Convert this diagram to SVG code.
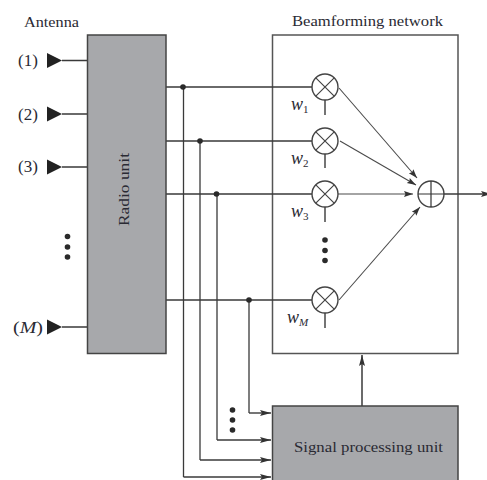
<svg xmlns="http://www.w3.org/2000/svg" width="487" height="480" viewBox="0 0 487 480">
<defs>
<marker id="a" markerUnits="userSpaceOnUse" markerWidth="12" markerHeight="8" refX="11" refY="4" orient="auto"><path d="M0 1L11 4L0 7L2 4Z" fill="#333"/></marker>
<marker id="t" markerUnits="userSpaceOnUse" markerWidth="10" markerHeight="8" refX="9" refY="4" orient="auto"><path d="M0 1L9 4L0 7L1.500 4Z" fill="#333"/></marker>
<g id="mul"><circle r="13" fill="#fff" stroke="#444" stroke-width="1.400"/><path d="M-9.200-9.200L9.200 9.200M-9.200 9.200L9.200-9.200" stroke="#444" stroke-width="1.200"/></g>
<path id="ant" d="M47 0V-7.500L62 0L47 7.500Z" fill="#222"/>
</defs>
<style>
text{font-family:"Liberation Serif","Times New Roman",serif;fill:#2a2a33;font-size:15px}
.l{fill:none;stroke:#3a3a3a;stroke-width:1.400}
.n{fill:none;stroke:#4a4a4a;stroke-width:1.100}
.b{fill:#a7a8ab;stroke:#444;stroke-width:1.500}
.w{fill:#fff;stroke:#555;stroke-width:1.500}
.d{fill:#2a2a2a}
.p{font-size:17px}
.o{font-size:18px;font-style:italic}
.s{font-size:11px}
</style>
<rect width="487" height="480" fill="#fff"/>
<g id="beamforming-network"><rect class="w" x="272.500" y="35" width="185.500" height="318.500"/><text x="292" y="26" textLength="151" lengthAdjust="spacingAndGlyphs">Beamforming network</text></g>
<g id="connectors">
<path class="l" d="M62 60.500H87M62 114H87M62 167H87M62 327H87"/>
<path class="l" d="M166 87H312M166 141H312M166 194H312M166 300H312"/>
<path class="l" d="M183.500 87V477M200 141V460M217 194V440M249 300V413" style="stroke-width:1.300"/>
<path class="l" marker-end="url(#a)" d="M183.500 477H271"/>
<path class="l" marker-end="url(#a)" d="M200 460H271"/>
<path class="l" marker-end="url(#a)" d="M217 440H271"/>
<path class="l" marker-end="url(#a)" d="M249 413H271"/>
<path class="l" d="M325 100V115M325 154V168M325 207V222M325 313V328"/>
<path class="n" marker-end="url(#t)" d="M339 88L417 178"/>
<path class="n" marker-end="url(#t)" d="M340 141L416 185"/>
<path class="n" marker-end="url(#t)" d="M338 194H413"/>
<path class="n" marker-end="url(#t)" d="M339 300L420 207"/>
<path class="l" marker-end="url(#a)" d="M444 194H492"/>
<path class="l" marker-end="url(#a)" d="M362 406V355" style="stroke-width:1.500"/>
<g class="d"><circle cx="183" cy="87" r="2.800"/><circle cx="200" cy="141" r="2.800"/><circle cx="216.500" cy="194" r="2.800"/><circle cx="249" cy="300" r="2.800"/></g>
</g>
<g id="radio-unit"><rect class="b" x="87.500" y="35" width="78.500" height="318.500"/><text transform="translate(129 226) rotate(-90)" textLength="73" lengthAdjust="spacingAndGlyphs">Radio unit</text></g>
<g id="signal-processing-unit"><rect class="b" x="272.500" y="406" width="185.500" height="80"/><text x="294" y="452" textLength="149" lengthAdjust="spacingAndGlyphs">Signal processing unit</text></g>
<g id="antenna-label"><text x="24" y="27" textLength="55" lengthAdjust="spacingAndGlyphs">Antenna</text></g>
<g id="antenna-1"><use href="#ant" y="60.500"/><text class="p" x="18" y="66">(1)</text></g>
<g id="antenna-2"><use href="#ant" y="114"/><text class="p" x="18" y="120">(2)</text></g>
<g id="antenna-3"><use href="#ant" y="167"/><text class="p" x="18" y="172">(3)</text></g>
<g id="antenna-m"><use href="#ant" y="327"/><text class="p" x="13" y="333" textLength="30" lengthAdjust="spacingAndGlyphs">(<tspan font-style="italic">M</tspan>)</text></g>
<g id="dots" class="d"><circle cx="67.500" cy="236.500" r="2.800"/><circle cx="67.500" cy="247" r="2.800"/><circle cx="67.500" cy="257" r="2.800"/><circle cx="232.500" cy="410" r="2.800"/><circle cx="232.500" cy="420" r="2.800"/><circle cx="232.500" cy="430" r="2.800"/><circle cx="325" cy="240" r="2.800"/><circle cx="325" cy="250.500" r="2.800"/><circle cx="325" cy="260.500" r="2.800"/></g>
<g id="mult-1"><use href="#mul" x="325" y="87"/><text class="o" x="291" y="110">w<tspan class="s" dy="3" font-style="normal">1</tspan></text></g>
<g id="mult-2"><use href="#mul" x="325" y="141"/><text class="o" x="291" y="164">w<tspan class="s" dy="3" font-style="normal">2</tspan></text></g>
<g id="mult-3"><use href="#mul" x="325" y="194"/><text class="o" x="291" y="217">w<tspan class="s" dy="3" font-style="normal">3</tspan></text></g>
<g id="mult-m"><use href="#mul" x="325" y="300"/><text class="o" x="287" y="323">w<tspan class="s" dy="3">M</tspan></text></g>
<g id="adder"><circle cx="431" cy="194" r="13" fill="#fff" stroke="#444" stroke-width="1.400"/><path d="M418 194H444M431 181V207" stroke="#333" stroke-width="1.200"/></g>
</svg>
